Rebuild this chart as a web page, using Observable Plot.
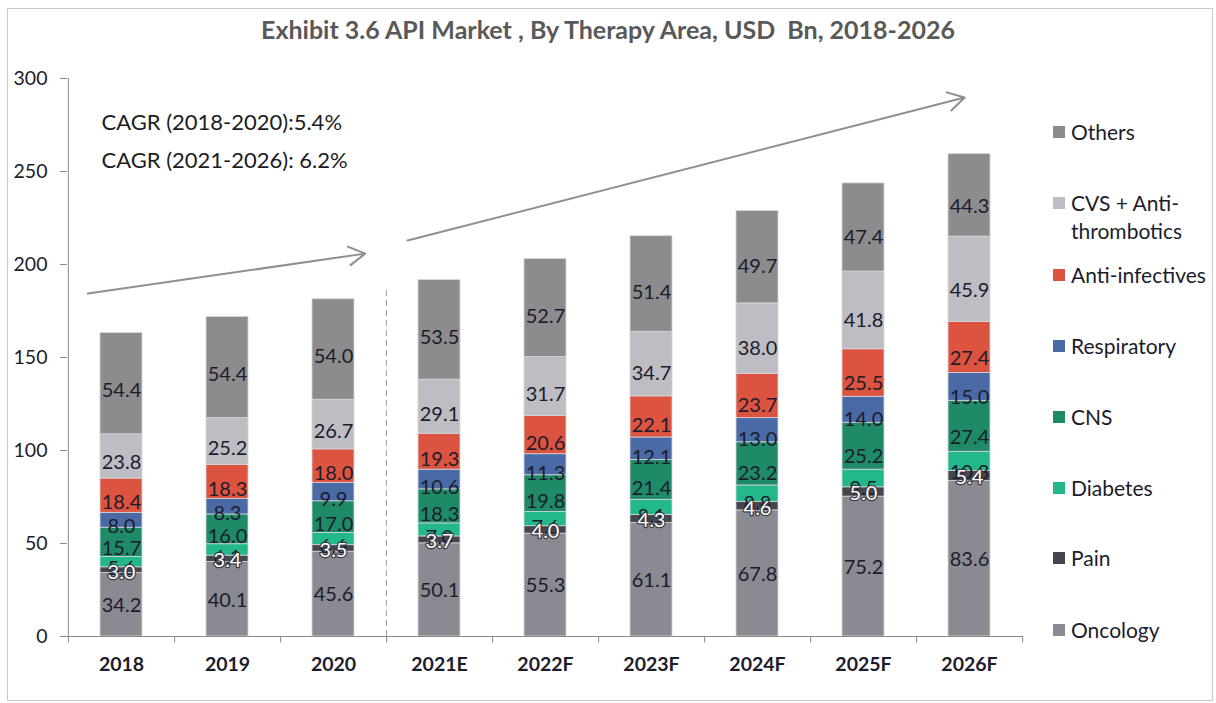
<!DOCTYPE html>
<html>
<head>
<meta charset="utf-8">
<script src="https://cdn.jsdelivr.net/npm/d3@7"></script>
<script src="https://cdn.jsdelivr.net/npm/@observablehq/plot@0.6"></script>
<style>
  html, body { margin: 0; padding: 0; background: #fff; }
  #wrap { position: relative; width: 1216px; height: 703px; font-family: Lato, "Open Sans", sans-serif; overflow: hidden; }
  #frame { position: absolute; left: 7px; top: 8px; width: 1206px; height: 693px; border: 1px solid #c8c8c8; box-sizing: border-box; }
  #title { position: absolute; left: 0; width: 1216px; top: 14px; text-align: center; font-weight: bold; font-size: 25px; color: #595959; }
  #chart { position: absolute; left: 0; top: 0; }
  .leg { position: absolute; left: 1053px; font-size: 21px; color: #1c1c2c; line-height: 28px; }
  .leg .sw { position: absolute; left: 0; top: 8px; width: 12px; height: 12px; }
  .leg .lb { position: absolute; left: 18px; top: 0; white-space: nowrap; }
</style>
</head>
<body>
<div id="wrap">
  <div id="frame"></div>
  <div id="title">Exhibit 3.6 API Market , By Therapy Area, USD&nbsp; Bn, 2018-2026</div>
  <div id="chart"></div>
  <div id="legend"></div>
</div>
<script>
const years = ["2018", "2019", "2020", "2021E", "2022F", "2023F", "2024F", "2025F", "2026F"];
const seriesNames = ["Oncology", "Pain", "Diabetes", "CNS", "Respiratory", "Anti-infectives", "CVS + Anti-thrombotics", "Others"];
const seriesColors = ["#8a8a92", "#44464e", "#22b88b", "#1e8a68", "#4a6aa6", "#dc5340", "#bdbdc3", "#8c8c8e"];

const oncology       = [34.2, 40.1, 45.6, 50.1, 55.3, 61.1, 67.8, 75.2, 83.6];
const pain           = [3.0, 3.4, 3.5, 3.7, 4.0, 4.3, 4.6, 5.0, 5.4];
const diabetes       = [5.6, 6.1, 6.6, 7.0, 7.6, 8.1, 8.8, 9.5, 10.3];
const cns            = [15.7, 16.0, 17.0, 18.3, 19.8, 21.4, 23.2, 25.2, 27.4];
const respiratory    = [8.0, 8.3, 9.9, 10.6, 11.3, 12.1, 13.0, 14.0, 15.0];
const antiInfectives = [18.4, 18.3, 18.0, 19.3, 20.6, 22.1, 23.7, 25.5, 27.4];
const cvs            = [23.8, 25.2, 26.7, 29.1, 31.7, 34.7, 38.0, 41.8, 45.9];
const others         = [54.4, 54.4, 54.0, 53.5, 52.7, 51.4, 49.7, 47.4, 44.3];

const cagrNotes = [
  {text: "CAGR (2018-2020):5.4%", value: 276.3},
  {text: "CAGR (2021-2026): 6.2%", value: 255.9}
];
// trend arrows (annotation), values in USD Bn
const arrow1 = {from: "2018", to: "2020", v1: 187.0, v2: 203.4};
const arrow2 = {from: "2021E", to: "2026F", v1: 217.3, v2: 290.5};
const dividerTop = 186;

const seriesValues = [oncology, pain, diabetes, cns, respiratory, antiInfectives, cvs, others];
const rows = [];
seriesNames.forEach((s, si) => years.forEach((y, yi) => rows.push({year: y, series: s, value: seriesValues[si][yi]})));

const W = 1216, H = 703;
const mL = 67, mR = 193, mT = 78, mB = 67;
const step = (W - mL - mR) / years.length;
const half = step / 2;

const stackOpts = {x: "year", y: "value", z: "series", order: seriesNames};

const chart = Plot.plot({
  width: W, height: H,
  marginLeft: mL, marginRight: mR, marginTop: mT, marginBottom: mB,
  style: {fontFamily: "Lato, 'Open Sans', sans-serif", background: "transparent", overflow: "visible"},
  x: {domain: years, paddingInner: 0.6, paddingOuter: 0.3, axis: null},
  y: {domain: [0, 300], axis: null},
  color: {domain: seriesNames, range: seriesColors},
  marks: [
    Plot.barY(rows, Plot.stackY({...stackOpts, fill: "series", stroke: "#d6d6da", strokeWidth: 0.8})),
    Plot.text(rows.filter(d => d.series !== "Pain"), Plot.stackY({...stackOpts, text: d => d.value.toFixed(1), fill: "#1c1c2c", fontSize: 20, dy: 1})),
    Plot.text(rows, Plot.stackY({...stackOpts, text: d => d.series === "Pain" ? d.value.toFixed(1) : "", fill: "white", stroke: "#3a3a44", strokeWidth: 2.5, paintOrder: "stroke", fontSize: 20, dy: 2})),
    // axes lines
    Plot.ruleY([0], {stroke: "#8a8a8a", strokeWidth: 1}),
    Plot.ruleX([years[0]], {y1: 0, y2: 300, dx: -half, stroke: "#8a8a8a", strokeWidth: 1}),
    // y ticks
    Plot.axisY({ticks: d3.range(0, 301, 50), tickSize: 7, tickPadding: 13, fontSize: 19.5, color: "#1c1c2c", stroke: "#8a8a8a"}),
    // x category ticks at band edges
    Plot.ruleX(years, {x: d => d, dx: half, y1: 0, y2: -3.5, stroke: "#8a8a8a"}),
    Plot.ruleX([years[0]], {dx: -half, y1: 0, y2: -3.5, stroke: "#8a8a8a"}),
    Plot.axisX({tickSize: 0, tickPadding: 21, fontSize: 19.5, fontWeight: "bold", color: "#1c1c2c"}),
    // divider between actual and forecast
    Plot.ruleX([years[3]], {y1: 0, y2: dividerTop, dx: -half, stroke: "#9a9a9a", strokeDasharray: "6,4", strokeWidth: 1}),
    // trend arrows
    Plot.arrow([arrow1], {x1: "from", x2: "to", y1: "v1", y2: "v2", stroke: "#8e8e96", strokeWidth: 2, headLength: 14, insetStart: -34, insetEnd: -32}),
    Plot.arrow([arrow2], {x1: "from", x2: "to", y1: "v1", y2: "v2", stroke: "#8e8e96", strokeWidth: 2, headLength: 14, insetStart: -33, insetEnd: 5}),
    // CAGR notes
    Plot.text(cagrNotes, {x: () => years[0], y: "value", text: "text", textAnchor: "start", dx: -20, fontSize: 22, fill: "#1c1c24"})
  ]
});
document.getElementById("chart").appendChild(chart);

// legend (top to bottom)
const legendItems = [
  {name: "Others", top: 118},
  {name: "CVS + Anti-<br>thrombotics", key: "CVS + Anti-thrombotics", top: 189},
  {name: "Anti-infectives", top: 261},
  {name: "Respiratory", top: 332},
  {name: "CNS", top: 403},
  {name: "Diabetes", top: 474},
  {name: "Pain", top: 544},
  {name: "Oncology", top: 616}
];
const legend = document.getElementById("legend");
legendItems.forEach(it => {
  const key = it.key || it.name;
  const color = seriesColors[seriesNames.indexOf(key)];
  const div = document.createElement("div");
  div.className = "leg";
  div.style.top = it.top + "px";
  div.innerHTML = `<div class="sw" style="background:${color}"></div><div class="lb">${it.name}</div>`;
  legend.appendChild(div);
});
</script>
</body>
</html>
